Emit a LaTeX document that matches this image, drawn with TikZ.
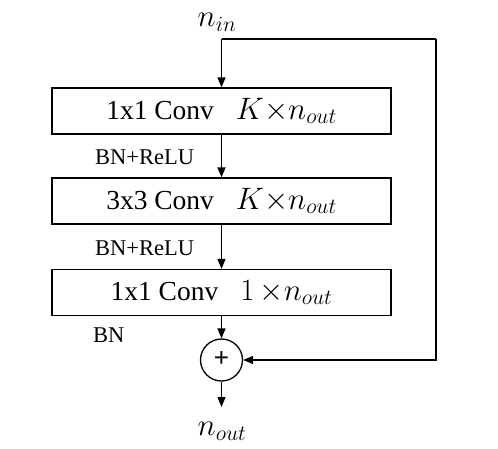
\RequirePackage{fix-cm}
\documentclass[tikz,border=0pt]{standalone}
\usepackage{fontspec}
\setmainfont{Liberation Serif}
\newfontfamily\plusfont{Liberation Sans}
\usetikzlibrary{arrows.meta}
\newcommand{\bigmath}[1]{{\fontsize{31}{34}\selectfont$#1$}}
\begin{document}
\begin{tikzpicture}[x=1pt,y=-1pt,
  ln/.style={line width=1.3pt},
  arr/.style={ln,-{Triangle[length=10pt,width=8pt]}},
  convbox/.style={draw,line width=1.3pt,minimum width=339pt,minimum height=46pt,inner sep=0pt,
    font=\fontsize{27.5}{30}\selectfont},
  lbl/.style={anchor=west,inner sep=0pt,font=\fontsize{22.5}{24}\selectfont},
  mth/.style={inner sep=0pt,font=\fontsize{31}{34}\selectfont}]
\useasboundingbox (0,0) rectangle (498,448);
\node[convbox] (b1) at (221.5,111) {1x1 Conv\hspace{0.8em}\bigmath{K{\times}n_{out}}};
\node[convbox] (b2) at (221.5,201) {3x3 Conv\hspace{0.8em}\bigmath{K{\times}n_{out}}};
\node[convbox] (b3) at (221.5,292.5) {1x1 Conv\hspace{0.8em}\bigmath{1\,{\times}n_{out}}};
\node[draw,circle,line width=1.3pt,minimum size=42pt,inner sep=0pt] (circ) at (221.5,360) {};
\node[inner sep=0pt,font=\plusfont\fontsize{26}{26}\selectfont] (plus) at (221.5,359) {+};
\node[mth] (nin) at (217,22) {$n_{in}$};
\node[mth] (nout) at (222,431) {$n_{out}$};
\coordinate (top) at (221.5,39);
\coordinate (tr) at (436,39);
\coordinate (outend) at (221.5,407);
\node[lbl] (l1) at (95,157) {BN+ReLU};
\node[lbl] (l2) at (95,248) {BN+ReLU};
\node[lbl] (l3) at (93,335) {BN};
\draw[arr] (top) -- (b1.north);
\draw[arr] (b1.south) -- (b2.north);
\draw[arr] (b2.south) -- (b3.north);
\draw[arr] (b3.south) -- (circ.north);
\draw[arr] (circ.south) -- (outend);
\draw[ln] (top) -- (tr);
\draw[arr] (tr) |- (circ.east);
\end{tikzpicture}
\end{document}
